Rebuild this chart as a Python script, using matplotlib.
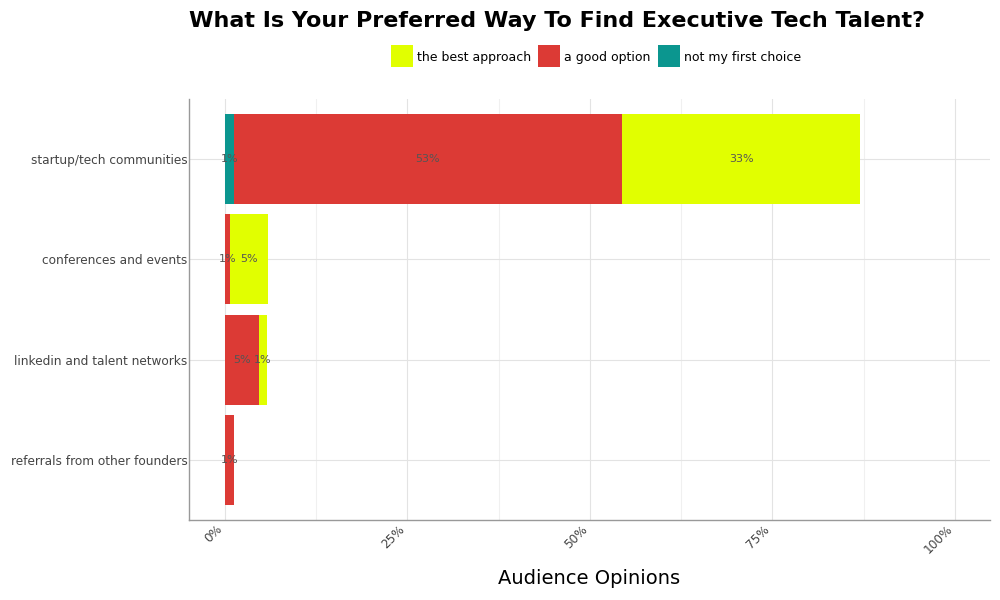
import matplotlib.pyplot as plt
from matplotlib.lines import Line2D
from matplotlib.ticker import MultipleLocator, FuncFormatter

categories = [
    "startup/tech communities",
    "conferences and events",
    "linkedin and talent networks",
    "referrals from other founders",
]
# stacked left to right: not my first choice, a good option, the best approach
not_first = [1.2, 0.0, 0.0, 0.0]
good_option = [53.2, 0.7, 4.6, 1.2]
best_approach = [32.6, 5.2, 1.2, 0.0]

series_names = ["not my first choice", "a good option", "the best approach"]
legend_order = ["the best approach", "a good option", "not my first choice"]
COLORS = {
    "the best approach": "#e1ff00",
    "a good option": "#dc3a35",
    "not my first choice": "#0b968f",
}

fig = plt.figure(figsize=(10, 6), dpi=100)
ax = fig.add_axes([0.189, 0.1333, 0.801, 0.7017])

ypos = list(range(len(categories)))
left = [0.0] * len(categories)
for name, vals in zip(series_names, [not_first, good_option, best_approach]):
    ax.barh(ypos, vals, left=left, height=0.9, color=COLORS[name], zorder=2)
    for i, v in enumerate(vals):
        if v > 0:
            ax.text(left[i] + v / 2, i, f"{v:.0f}%", ha="center", va="center",
                    fontsize=8, color="#555555", zorder=3)
    left = [l + v for l, v in zip(left, vals)]

ax.set_yticks(ypos)
ax.set_yticklabels(categories, fontsize=8.7, color="#444444")
ax.set_ylim(3.6, -0.6)
ax.set_xlim(-4.93, 104.8)
ax.xaxis.set_major_locator(MultipleLocator(25))
ax.xaxis.set_minor_locator(MultipleLocator(12.5))
ax.xaxis.set_major_formatter(FuncFormatter(lambda x, _: f"{x:.0f}%"))
plt.setp(ax.get_xticklabels(), rotation=45, ha="right",
         fontsize=8.7, color="#444444")
ax.tick_params(axis="y", length=0, pad=1)
ax.tick_params(axis="x", length=0, pad=2)
ax.tick_params(axis="x", which="minor", length=0)
ax.grid(True, which="major", color="#e3e3e3", linewidth=0.8, zorder=0)
ax.grid(True, which="minor", axis="x", color="#f0f0f0", linewidth=0.8, zorder=0)
ax.set_axisbelow(True)

for side in ("top", "right"):
    ax.spines[side].set_visible(False)
for side in ("left", "bottom"):
    ax.spines[side].set_color("#999999")
    ax.spines[side].set_linewidth(1.0)

ax.set_xlabel("Audience Opinions", fontsize=14, labelpad=9)

fig.suptitle("What Is Your Preferred Way To Find Executive Tech Talent?",
             fontsize=16, fontweight="bold", x=0.557, y=0.982)

handles = [Line2D([], [], linestyle="none", marker="s", markersize=16,
                  markerfacecolor=COLORS[n], markeredgewidth=0, label=n)
           for n in legend_order]
fig.legend(handles=handles, loc="center", bbox_to_anchor=(0.596, 0.905), ncol=3,
           frameon=False, fontsize=9, handlelength=1.76,
           handletextpad=0.3, columnspacing=0.6)

fig.savefig("out.png", dpi=100)
